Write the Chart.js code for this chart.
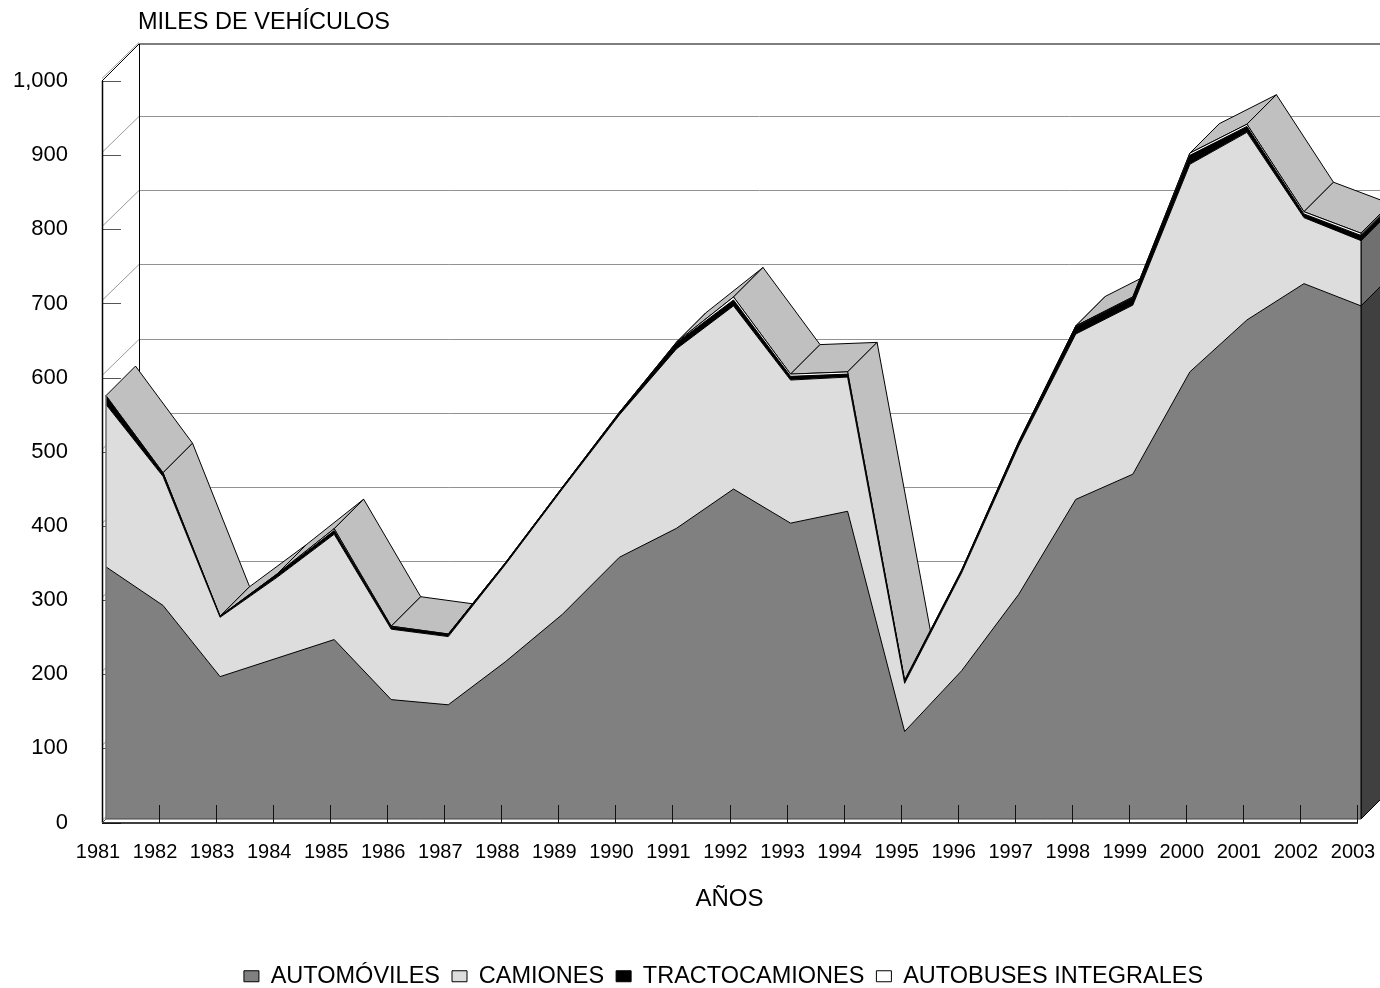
<!DOCTYPE html>
<html>
<head>
<meta charset="utf-8">
<style>html,body{margin:0;padding:0;background:#fff;overflow:hidden}#wrap{width:1380px;height:988px;position:relative}</style>
<script src="https://cdn.jsdelivr.net/npm/chart.js@4/dist/chart.umd.js"></script>
</head>
<body>
<div id="wrap"><canvas id="c" width="1380" height="988"></canvas></div>
<script>
const years = ['1981','1982','1983','1984','1985','1986','1987','1988','1989','1990','1991','1992','1993','1994','1995','1996','1997','1998','1999','2000','2001','2002','2003'];
const automoviles = [340,288,192,217,242,161,154,212,276,353,392,445,399,415,118,200,303,431,465,603,673,722,692];
const camiones = [219,174,80,109,142,95,92,131,169,192,242,247,193,181,65,132,200,223,228,280,253,89,88];
const tractocamiones = [11,4,1,4,5,3,3,2,2,3,8,8,5,4,3,3,5,10,10,12,8,5,7];
const autobuses = [1,1,0.5,0.5,2.5,1,0.5,0.5,0.5,0.5,1,4,3,3,1,1,1,1,1,3,3,3,3];
const seriesNames = ['AUTOMÓVILES','CAMIONES','TRACTOCAMIONES','AUTOBUSES INTEGRALES'];
const yTitle = 'MILES DE VEHÍCULOS';
const xTitle = 'AÑOS';

const FRONT_COLORS = ['#808080','#DDDDDD','#000000','#FFFFFF'];
const SIDE_COLORS = ['#404040','#707070','#000000','#808080'];
const TOP_COLOR = '#C0C0C0';
const PLANE = {dx:4, dy:-3.5};
const DEPTH = 29.5;
const WALL = {dx:37, dy:-39};
const FONT = '"Liberation Sans", Arial, sans-serif';

function line(ctx,x1,y1,x2,y2,color,w){
  ctx.strokeStyle=color;ctx.lineWidth=w;ctx.beginPath();ctx.moveTo(x1,y1);ctx.lineTo(x2,y2);ctx.stroke();
}
function poly(ctx,pts,fill){
  ctx.beginPath();pts.forEach((p,i)=>i?ctx.lineTo(p[0],p[1]):ctx.moveTo(p[0],p[1]));ctx.closePath();
  ctx.fillStyle=fill;ctx.fill();
  ctx.strokeStyle='#000';ctx.lineWidth=1;ctx.stroke();
}
const area3d = {
  id:'area3d',
  afterLayout(chart){
    chart.legend.left+=45;chart.legend.right+=45;
  },
  beforeDatasetsDraw(chart){
    const ctx=chart.ctx, ys=chart.scales.y, area=chart.chartArea;
    const W=chart.width;
    ctx.save();
    ys.ticks.forEach(t=>{
      const y=Math.round(ys.getPixelForValue(t.value))+0.5;
      const top=t.value===1000;
      if(t.value>0){
        line(ctx,area.left+WALL.dx,y+WALL.dy+(top?1.5:0),W,y+WALL.dy+(top?1.5:0),top?'#7f7f7f':'#929292',top?2:1);
      }
      line(ctx,area.left,y-3,area.left+WALL.dx,y+WALL.dy,'#999',1);
      line(ctx,area.left,y,area.left+19,y,'#555',1);
    });
    const y1000=ys.getPixelForValue(1000), y0=ys.getPixelForValue(0);
    line(ctx,area.left,y1000,area.left+WALL.dx,y1000+WALL.dy+2,'#000',1);
    line(ctx,area.left+WALL.dx+0.5,y1000+WALL.dy+2,area.left+WALL.dx+0.5,y0+WALL.dy,'#000',1);
    line(ctx,area.left+0.5,y1000,area.left+0.5,y0,'#000',1.5);
    ctx.translate(PLANE.dx,PLANE.dy);
    const last=chart.getDatasetMeta(chart.data.datasets.length-1).data;
    for(let i=0;i<last.length-1;i++){
      const a=last[i],b=last[i+1];
      poly(ctx,[[a.x,a.y],[b.x,b.y],[b.x+DEPTH,b.y-DEPTH],[a.x+DEPTH,a.y-DEPTH]],TOP_COLOR);
    }
    const n=last.length-1;
    chart.data.datasets.forEach((ds,k)=>{
      const topP=chart.getDatasetMeta(k).data[n];
      const botY=k?chart.getDatasetMeta(k-1).data[n].y:ys.getPixelForValue(0);
      poly(ctx,[[topP.x,topP.y],[topP.x+DEPTH,topP.y-DEPTH],[topP.x+DEPTH,botY-DEPTH],[topP.x,botY]],SIDE_COLORS[k]);
    });
    ctx.restore();
    ctx.save();
    ctx.translate(PLANE.dx,PLANE.dy);
  },
  afterDatasetsDraw(chart){
    const ctx=chart.ctx, ys=chart.scales.y, xs=chart.scales.x;
    const y0=ys.getPixelForValue(0);
    const m=chart.data.datasets.length-1;
    const last=chart.getDatasetMeta(m).data, first=last[0], end=last[last.length-1];
    line(ctx,first.x,first.y,first.x,y0,'#6e6e6e',1.5);
    line(ctx,end.x,end.y,end.x,y0,'#000',1);
    line(ctx,first.x,y0,end.x,y0,'#444',1);
    ctx.restore();
    ctx.save();
    const a=chart.chartArea;
    const yb=y0+0.5;
    line(ctx,a.left,yb,xs.getPixelForValue(years.length-1)+1,yb,'#000',1.5);
    line(ctx,a.left,yb,a.left+4,yb-4,'#555',1);
    years.forEach((l,i)=>{
      const x=Math.round(xs.getPixelForValue(i))+0.5;
      if(i>0) line(ctx,x,yb-18,x,yb,'#111',1);
    });
    ctx.fillStyle='#000';
    ctx.font='23.5px '+FONT;
    ctx.textBaseline='middle';ctx.textAlign='left';
    ctx.fillText(yTitle,138,23);
    ctx.restore();
  }
};

const datasets=[automoviles,camiones,tractocamiones,autobuses].map((vals,i)=>({
  label:seriesNames[i],
  data:vals,
  backgroundColor:FRONT_COLORS[i],
  borderColor:'#000',
  borderWidth:1,
  fill:i===0?'origin':'-1',
  tension:0,
  pointRadius:0,
  clip:false
}));

new Chart(document.getElementById('c'),{
  type:'line',
  data:{labels:years,datasets},
  plugins:[area3d],
  options:{
    responsive:false,
    animation:false,
    layout:{padding:{top:81,right:23,left:0,bottom:-10}},
    plugins:{
      tooltip:{enabled:false},
      title:{display:false},
      legend:{
        display:true,position:'bottom',
        labels:{
          boxWidth:15,boxHeight:11,padding:12,color:'#000',
          font:{family:FONT,size:23.5}
        }
      }
    },
    scales:{
      x:{
        stacked:true,offset:false,
        grid:{display:false},border:{display:false},
        afterFit(s){s.height=130;s.paddingLeft=0;s.paddingRight=0;},
        title:{display:true,text:xTitle,color:'#000',padding:{top:16,bottom:39},
          font:{family:FONT,size:24}},
        ticks:{color:'#000',maxRotation:0,minRotation:0,autoSkip:false,padding:10,labelOffset:-4,
          font:{family:FONT,size:20}}
      },
      y:{
        stacked:true,min:0,max:1000,
        grid:{display:false},border:{display:false},
        afterFit(s){s.width=102;},
        ticks:{color:'#000',stepSize:100,padding:26,
          font:{family:FONT,size:22},
          callback:v=>v.toLocaleString('en-US')}
      }
    }
  }
});
</script>
</body>
</html>
